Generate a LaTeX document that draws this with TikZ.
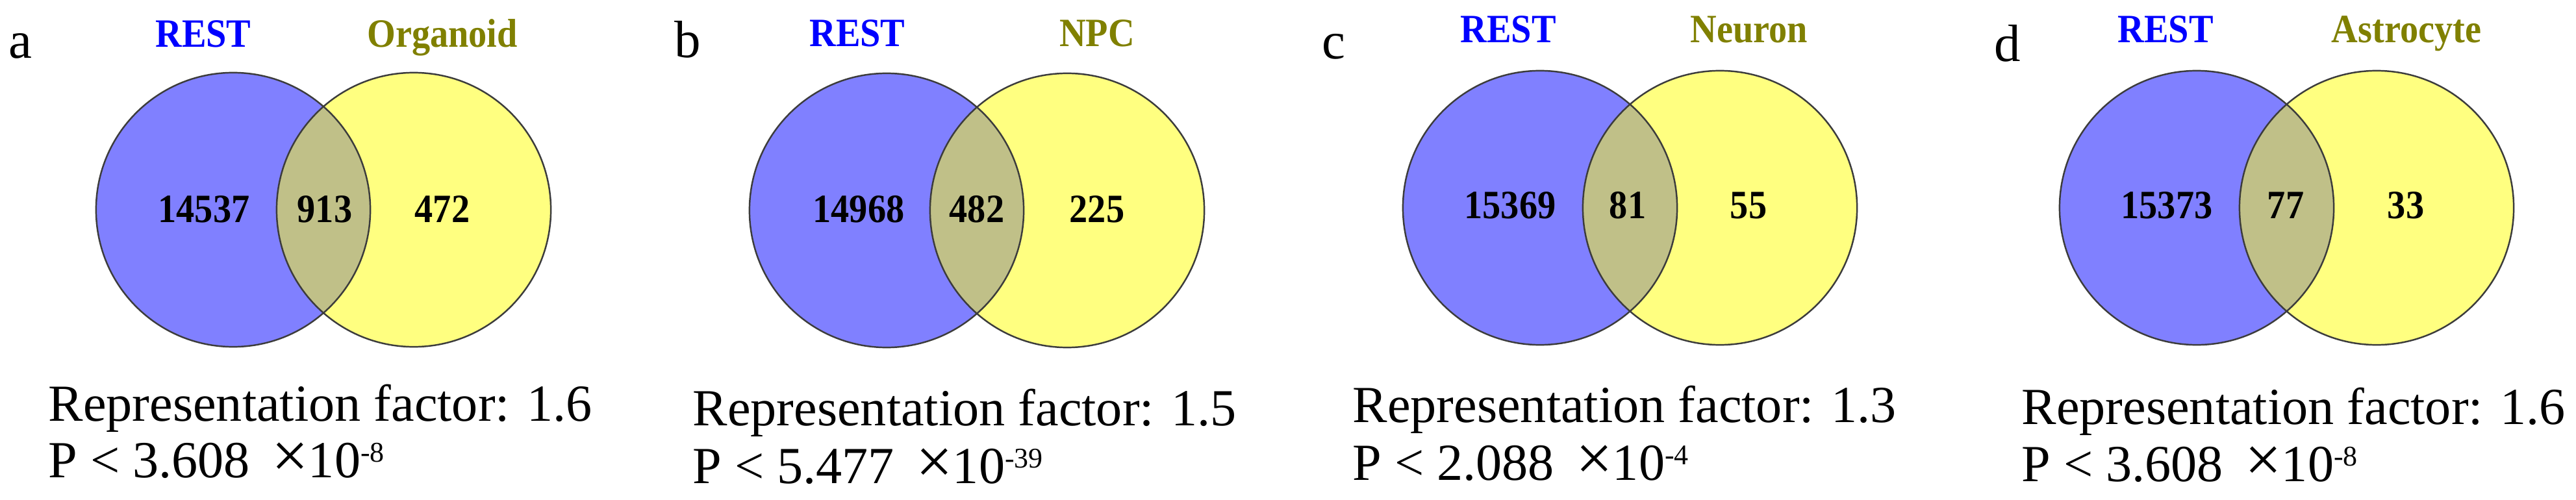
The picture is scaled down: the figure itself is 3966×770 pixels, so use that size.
\documentclass[tikz,border=0pt]{standalone}
\usepackage{graphicx}
\usepackage{fontspec}
\setmainfont{Liberation Serif}
\definecolor{vblue}{RGB}{128,128,255}
\definecolor{vyellow}{RGB}{255,255,128}
\definecolor{vover}{RGB}{192,192,136}
\definecolor{labblue}{RGB}{0,0,255}
\definecolor{labolive}{RGB}{128,128,0}
\definecolor{vedge}{RGB}{60,60,60}
\tikzset{
  setlab/.style={anchor=base, inner sep=0, font=\fontsize{17.6pt}{20pt}\selectfont\bfseries},
  num/.style={anchor=base, inner sep=0, font=\fontsize{17.6pt}{20pt}\selectfont\bfseries},
  panlab/.style={anchor=base west, inner sep=0, font=\fontsize{23pt}{26pt}\selectfont},
  stat/.style={anchor=base west, inner sep=0, font=\fontsize{22.8pt}{26pt}\selectfont},
  vline/.style={draw=vedge, line width=0.7pt},
}
\newcommand\cond[1]{\scalebox{0.91}[1]{#1}}
\newcommand\expo[1]{\raisebox{6.8pt}{\fontsize{12.5pt}{13pt}\selectfont #1}}
\newcommand\crossx{\scalebox{1.25}{×}}
\newcommand\vennpair[3]{%
  \fill[vblue] (#1,#3) circle[radius=2.11cm];
  \fill[vyellow] (#2,#3) circle[radius=2.11cm];
  \begin{scope}
    \clip (#1,#3) circle[radius=2.11cm];
    \fill[vover] (#2,#3) circle[radius=2.11cm];
  \end{scope}
  \draw[vline] (#1,#3) circle[radius=2.11cm] (#2,#3) circle[radius=2.11cm];
}
\begin{document}
\begin{tikzpicture}[x=0.01cm,y=-0.01cm]
\useasboundingbox (0,0) rectangle (3966,770);
% panel a
\vennpair{359}{637}{323}
\node[panlab] (la) at (13,90) {a};
\node[setlab,text=labblue] (ra) at (313,73) {\cond{REST}};
\node[setlab,text=labolive] (oa) at (681,73) {\cond{Organoid}};
\node[num] (a1) at (314,343) {\cond{14537}};
\node[num] (a2) at (500,343) {\cond{913}};
\node[num] (a3) at (681,343) {\cond{472}};
\node[stat] (sa1) at (74,648) {Representation factor: 1.6};
\node[stat] (sa2) at (74,735) {P < 3.608 \,\crossx10\expo{-8}};
% panel b
\vennpair{1365}{1643}{324}
\node[panlab] (lb) at (1038,89) {b};
\node[setlab,text=labblue] (rb) at (1320,72) {\cond{REST}};
\node[setlab,text=labolive] (ob) at (1689,72) {\cond{NPC}};
\node[num] (b1) at (1322,342) {\cond{14968}};
\node[num] (b2) at (1504,342) {\cond{482}};
\node[num] (b3) at (1689,342) {\cond{225}};
\node[stat] (sb1) at (1066,655) {Representation factor: 1.5};
\node[stat] (sb2) at (1066,744) {P < 5.477 \,\crossx10\expo{-39}};
% panel c
\vennpair{2371}{2648}{320}
\node[panlab] (lc) at (2035,91) {c};
\node[setlab,text=labblue] (rc) at (2322,66) {\cond{REST}};
\node[setlab,text=labolive] (oc) at (2693,66) {\cond{Neuron}};
\node[num] (c1) at (2325,337) {\cond{15369}};
\node[num] (c2) at (2506,337) {\cond{81}};
\node[num] (c3) at (2692,337) {\cond{55}};
\node[stat] (sc1) at (2082,650) {Representation factor: 1.3};
\node[stat] (sc2) at (2082,739) {P < 2.088 \,\crossx10\expo{-4}};
% panel d
\vennpair{3382}{3659}{320}
\node[panlab] (ld) at (3070,95) {d};
\node[setlab,text=labblue] (rd) at (3334,66) {\cond{REST}};
\node[setlab,text=labolive] (od) at (3705,66) {\cond{Astrocyte}};
\node[num] (d1) at (3336,337) {\cond{15373}};
\node[num] (d2) at (3519,337) {\cond{77}};
\node[num] (d3) at (3704,337) {\cond{33}};
\node[stat] (sd1) at (3112,653) {Representation factor: 1.6};
\node[stat] (sd2) at (3112,741) {P < 3.608 \,\crossx10\expo{-8}};
\end{tikzpicture}
\end{document}
